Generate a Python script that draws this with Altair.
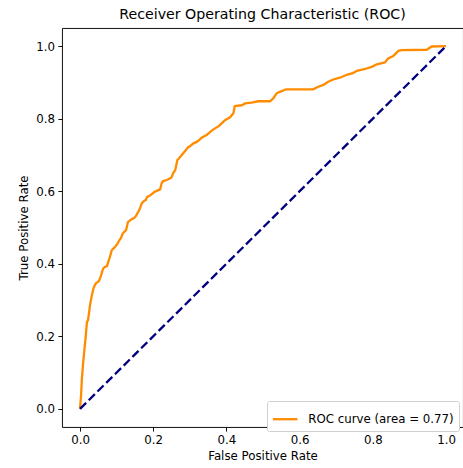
import altair as alt
import pandas as pd

# ROC curve points (false positive rate, true positive rate)
fpr = [0.0, 0.003, 0.005, 0.008, 0.012, 0.016, 0.019, 0.022, 0.025, 0.027,
       0.031, 0.034, 0.037, 0.041, 0.044, 0.049, 0.052, 0.055, 0.057, 0.060,
       0.064, 0.068, 0.074, 0.077, 0.081, 0.082, 0.087, 0.093, 0.096, 0.104,
       0.105, 0.112, 0.117, 0.123, 0.126, 0.131, 0.141, 0.148, 0.153, 0.162,
       0.169, 0.175, 0.180, 0.183, 0.191, 0.205, 0.219, 0.223, 0.227, 0.237,
       0.248, 0.251, 0.255, 0.260, 0.262, 0.266, 0.269, 0.278, 0.287, 0.296,
       0.299, 0.310, 0.319, 0.325, 0.333, 0.346, 0.352, 0.360, 0.373, 0.380,
       0.387, 0.396, 0.410, 0.419, 0.423, 0.442, 0.451, 0.469, 0.487, 0.519,
       0.528, 0.537, 0.546, 0.563, 0.637, 0.651, 0.665, 0.678, 0.692, 0.710,
       0.729, 0.747, 0.756, 0.765, 0.779, 0.797, 0.811, 0.833, 0.842, 0.856,
       0.870, 0.879, 0.947, 0.961, 1.0]
tpr = [0.0, 0.039, 0.080, 0.121, 0.163, 0.204, 0.240, 0.245, 0.267, 0.284,
       0.306, 0.320, 0.333, 0.342, 0.347, 0.350, 0.353, 0.361, 0.366, 0.377,
       0.388, 0.391, 0.394, 0.405, 0.416, 0.420, 0.438, 0.444, 0.447, 0.457,
       0.461, 0.471, 0.484, 0.490, 0.493, 0.515, 0.523, 0.526, 0.532, 0.548,
       0.567, 0.573, 0.576, 0.584, 0.588, 0.599, 0.605, 0.622, 0.628, 0.631,
       0.636, 0.640, 0.651, 0.658, 0.667, 0.686, 0.689, 0.700, 0.711, 0.722,
       0.723, 0.732, 0.736, 0.741, 0.748, 0.755, 0.760, 0.767, 0.776, 0.780,
       0.787, 0.796, 0.804, 0.815, 0.835, 0.837, 0.842, 0.844, 0.848, 0.848,
       0.856, 0.870, 0.874, 0.881, 0.881, 0.888, 0.893, 0.902, 0.908, 0.913,
       0.921, 0.926, 0.932, 0.934, 0.937, 0.943, 0.950, 0.955, 0.966, 0.973,
       0.987, 0.989, 0.990, 0.999, 1.0]

# chance diagonal
chance_x = [0.0, 1.0]
chance_y = [0.0, 1.0]

roc_label = "ROC curve (area = 0.77)"
tick_values = [0.0, 0.2, 0.4, 0.6, 0.8, 1.0]

roc_df = pd.DataFrame({"fpr": fpr, "tpr": tpr, "step": range(len(fpr)),
                       "series": roc_label})
diag_df = pd.DataFrame({"fpr": chance_x, "tpr": chance_y})

FONT = "DejaVu Sans"
TEXT_SIZE = 11.8
LINE_W = 2.3

x_scale = alt.Scale(domain=[-0.0492, 1.0464], nice=False, zero=False)
y_scale = alt.Scale(domain=[-0.05, 1.05], nice=False, zero=False)

x_axis = alt.Axis(values=tick_values, format=".1f", title="False Positive Rate",
                  titlePadding=4)
y_axis = alt.Axis(values=tick_values, format=".1f", title="True Positive Rate",
                  titlePadding=6)

roc = alt.Chart(roc_df).mark_line(strokeWidth=LINE_W, clip=True).encode(
    x=alt.X("fpr:Q", scale=x_scale, axis=x_axis),
    y=alt.Y("tpr:Q", scale=y_scale, axis=y_axis),
    order=alt.Order("step:Q"),
    color=alt.Color(
        "series:N",
        scale=alt.Scale(domain=[roc_label], range=["#ff8c00"]),
        legend=alt.Legend(
            title=None,
            orient="none",
            legendX=205,
            legendY=373,
            symbolType="stroke",
            symbolStrokeWidth=LINE_W,
            symbolSize=600,
            labelFont=FONT,
            labelFontSize=TEXT_SIZE,
            labelColor="black",
            labelOffset=9.5,
            padding=4.7,
            fillColor="white",
            strokeColor="#d0d0d0",
            cornerRadius=2,
        ),
    ),
)

diag = alt.Chart(diag_df).mark_line(
    color="#000080", strokeWidth=LINE_W, strokeDash=[8.6, 3.7], strokeCap="butt"
).encode(
    x=alt.X("fpr:Q", scale=x_scale),
    y=alt.Y("tpr:Q", scale=y_scale),
)

chart = (
    alt.layer(roc, diag)
    .properties(
        width=401,
        height=399,
        title=alt.TitleParams(
            "Receiver Operating Characteristic (ROC)",
            font=FONT,
            fontSize=14.2,
            fontWeight="normal",
            color="black",
            anchor="middle",
            frame="group",
            offset=6,
        ),
        autosize=alt.AutoSizeParams(type="none"),
        padding={"left": 62, "top": 28, "right": 0, "bottom": 41},
    )
    .configure_view(stroke="black", strokeWidth=0.94)
    .configure_axis(
        grid=False,
        domain=False,
        tickColor="black",
        tickSize=4.1,
        tickWidth=0.94,
        labelFont=FONT,
        labelFontSize=TEXT_SIZE,
        labelColor="black",
        labelPadding=3.5,
        titleFont=FONT,
        titleFontSize=TEXT_SIZE,
        titleFontWeight="normal",
        titleColor="black",
    )
)

chart.save("out.html", embed_options={"renderer": "svg", "actions": False})
